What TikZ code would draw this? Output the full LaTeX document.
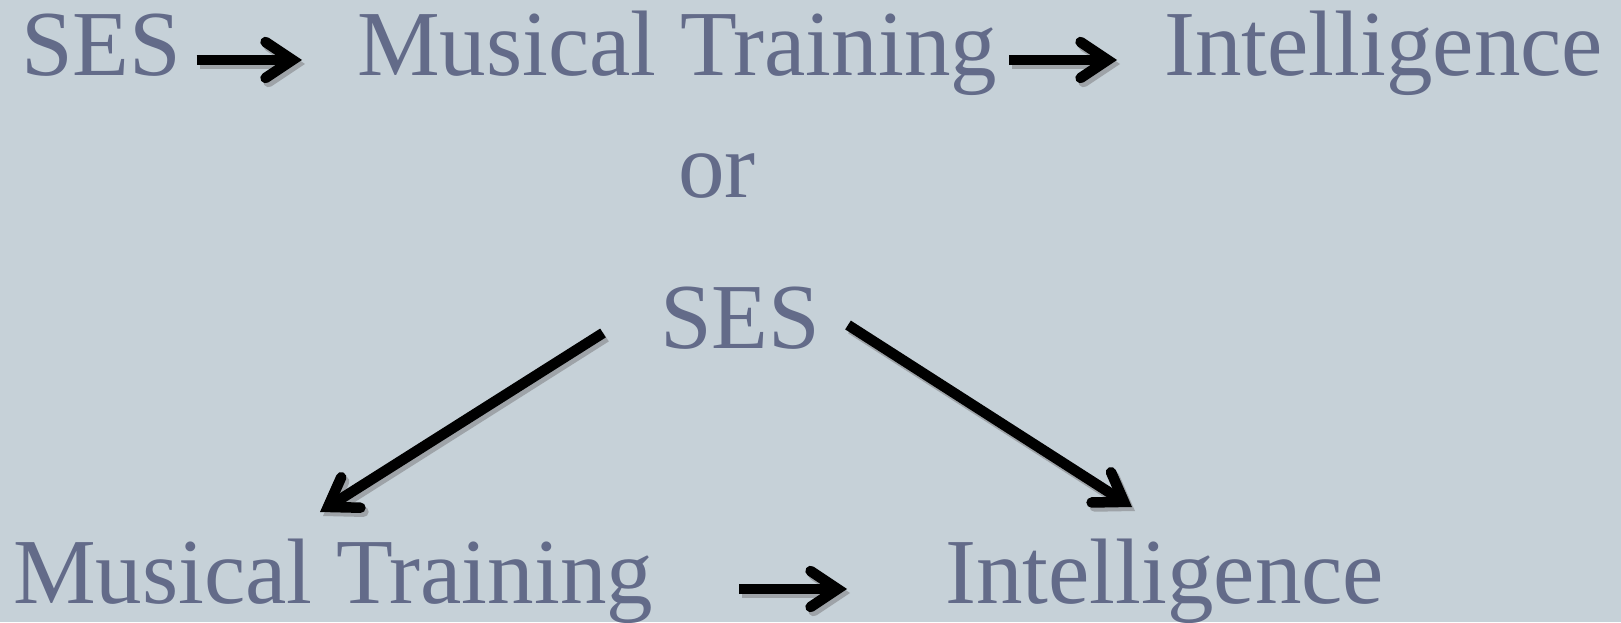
\documentclass[tikz,border=0pt]{standalone}
\usepackage{fontspec}
\setmainfont{Liberation Serif}
\usetikzlibrary{arrows.meta}
\definecolor{bgblue}{HTML}{C6D1D8}
\definecolor{labelink}{HTML}{636B89}
\definecolor{shadowgray}{HTML}{9EA3A8}
\tikzset{
  label/.style={inner sep=0pt, anchor=base west, text=labelink,
    font=\fontsize{93}{100}\selectfont},
  arr/.style={line width=10.5pt,
    -{Straight Barb[length=27pt, width=36pt, line cap=round, line join=miter]}},
  arrink/.style={arr, draw=black},
  arrshadow/.style={arr, draw=shadowgray}
}
% the five connectors, drawn once as shadow and once in ink
\newcommand\causalarrows[1]{%
  \draw[#1] ([yshift=16pt]ses1.base east) -- ([yshift=16pt]mt1.base west)
    [shorten <=15pt, shorten >=55pt];
  \draw[#1] ([yshift=16pt]mt1.base east) -- ([yshift=16pt]int1.base west)
    [shorten <=12pt, shorten >=47pt];
  \draw[#1] ([shift={(-57pt,15pt)}]ses2.base west) -- ([shift={(307pt,91pt)}]mt2.base west);
  \draw[#1] ([shift={(188pt,23pt)}]ses2.base west) -- ([shift={(187pt,96pt)}]int2.base west);
  \draw[#1] ([yshift=14pt]mt2.base east) -- ([yshift=14pt]int2.base west)
    [shorten <=86pt, shorten >=98pt];
}
\begin{document}
\begin{tikzpicture}[x=1pt, y=1pt]
  \useasboundingbox (0,0) rectangle (1621,622);
  \fill[bgblue] (0,0) rectangle (1621,622);

  % chain: SES -> Musical Training -> Intelligence
  \node[label] (ses1) at (21,546) {SES};
  \node[label] (mt1) at (357,546) {Musical Training};
  \node[label] (int1) at (1164,546) {Intelligence};

  \node[label] (or) at (678,424) {or};

  % common cause: SES drives both
  \node[label] (ses2) at (660,274) {SES};
  \node[label] (mt2) at (13,19) {Musical Training};
  \node[label] (int2) at (945,19) {Intelligence};

  \begin{scope}[transform canvas={xshift=3pt, yshift=-4pt}]
    \causalarrows{arrshadow}
  \end{scope}
  \causalarrows{arrink}
\end{tikzpicture}
\end{document}
